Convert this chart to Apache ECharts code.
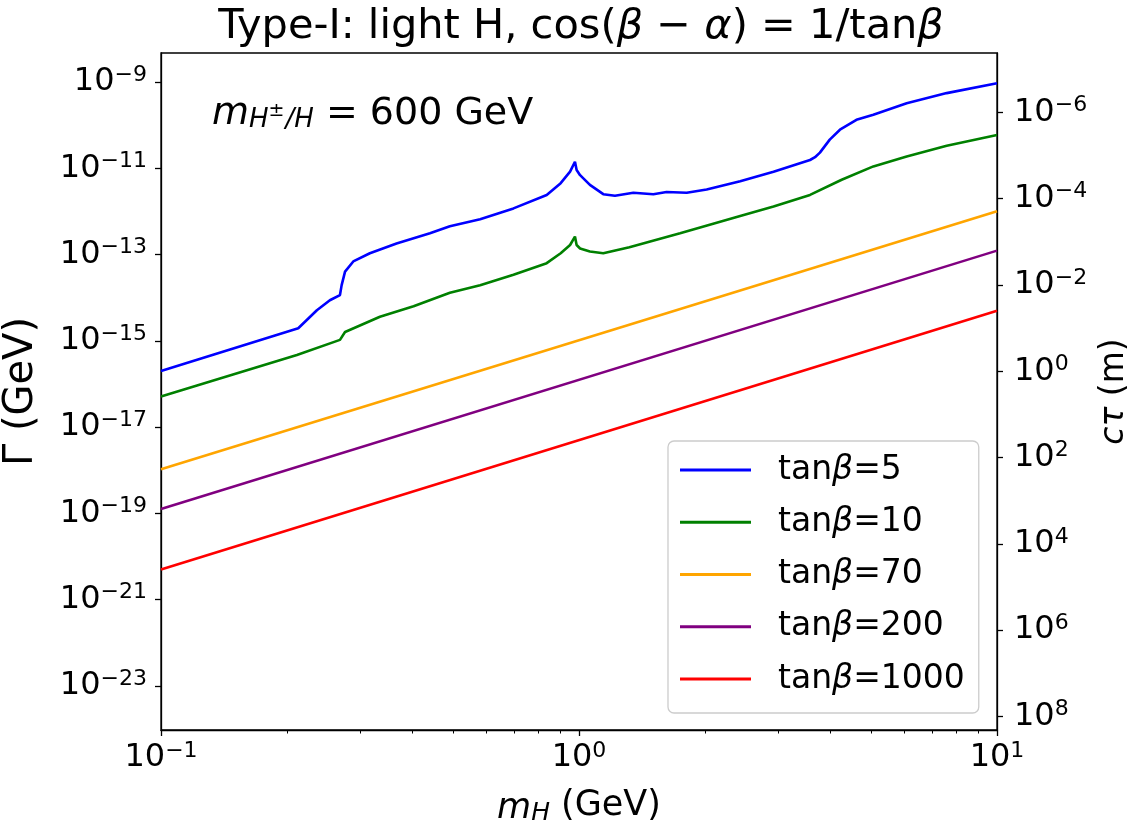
<!DOCTYPE html>
<html>
<head>
<meta charset="utf-8">
<title>Type-I light H</title>
<script src="https://cdn.jsdelivr.net/npm/echarts@6/dist/echarts.min.js"></script>
<style>
html,body{margin:0;padding:0;background:#fff;}
#chart{width:1127px;height:829px;}
</style>
</head>
<body>
<div id="chart"></div>
<script>
// m_H (GeV) and Gamma (GeV)
var massBlue = [0.1, 0.213, 0.236, 0.2535, 0.268, 0.2705, 0.2756, 0.2884, 0.316, 0.366, 0.440, 0.491, 0.580, 0.697, 0.837, 0.904, 0.952, 0.978, 0.987, 1.006, 1.062, 1.143, 1.219, 1.349, 1.506, 1.62, 1.81, 2.02, 2.43, 2.92, 3.57, 3.67, 3.77, 3.98, 4.21, 4.61, 5.06, 6.08, 7.58, 10];
var gammaBlue = [2.0e-16, 1.95e-15, 5.1e-15, 8.7e-15, 1.15e-14, 1.95e-14, 4.0e-14, 6.9e-14, 1.07e-13, 1.8e-13, 3.1e-13, 4.5e-13, 6.6e-13, 1.17e-12, 2.4e-12, 4.5e-12, 8.3e-12, 1.41e-11, 9.1e-12, 6.9e-12, 4.1e-12, 2.5e-12, 2.3e-12, 2.7e-12, 2.5e-12, 2.8e-12, 2.7e-12, 3.2e-12, 5.0e-12, 8.3e-12, 1.55e-11, 1.8e-11, 2.3e-11, 4.6e-11, 7.8e-11, 1.32e-10, 1.74e-10, 3.2e-10, 5.5e-10, 9.3e-10];

var massGreen = [0.1, 0.2114, 0.268, 0.2756, 0.334, 0.402, 0.491, 0.580, 0.697, 0.837, 0.904, 0.952, 0.978, 0.987, 1.006, 1.062, 1.143, 1.32, 1.745, 2.43, 2.92, 3.57, 4.25, 5.06, 6.08, 7.58, 10];
var gammaGreen = [5.1e-17, 4.7e-16, 1.05e-15, 1.6e-15, 3.6e-15, 6.3e-15, 1.3e-14, 1.95e-14, 3.4e-14, 6.3e-14, 1.07e-13, 1.66e-13, 2.6e-13, 1.66e-13, 1.38e-13, 1.17e-13, 1.07e-13, 1.48e-13, 3.1e-13, 7.8e-13, 1.29e-12, 2.4e-12, 5.4e-12, 1.1e-11, 1.86e-11, 3.3e-11, 5.9e-11];

var massEnds = [0.1, 10];
var gammaOrange = [1.05e-18, 1.0e-12];
var gammaPurple = [1.26e-19, 1.23e-13];
var gammaRed = [5.0e-21, 5.0e-15];

var seriesNames = ['tanβ=5', 'tanβ=10', 'tanβ=70', 'tanβ=200', 'tanβ=1000'];
var seriesColors = ['#0000ff', '#008000', '#ffa500', '#800080', '#ff0000'];

var xTicks = [0.1, 1, 10];
var xMinorTicks = [0.2, 0.3, 0.4, 0.5, 0.6, 0.7, 0.8, 0.9, 2, 3, 4, 5, 6, 7, 8, 9];
var gammaTicks = [1e-9, 1e-11, 1e-13, 1e-15, 1e-17, 1e-19, 1e-21, 1e-23];
var ctauTicks = [1e-6, 1e-4, 1e-2, 1, 1e2, 1e4, 1e6, 1e8];

var gammaMin = Math.pow(10, -24.02);
var gammaMax = Math.pow(10, -8.33);
var HBARC = 1.9733e-16; // GeV m, c*tau = hbar*c / Gamma

var FONT = 'DejaVu Sans';

function pairs(xs, ys) {
    var out = [];
    for (var i = 0; i < xs.length; i++) {
        out.push([xs[i], ys[i]]);
    }
    return out;
}

function powLabel(v) {
    var e = Math.round(Math.log10(v));
    return '{b|10}{s|' + (e < 0 ? '\u2212' + (-e) : e) + '}';
}

var tickRich = {
    b: {fontSize: 32, lineHeight: 36, fontFamily: FONT, color: '#000'},
    s: {fontSize: 22, lineHeight: 22, verticalAlign: 'top', fontFamily: FONT, color: '#000'}
};

var lineData = [
    pairs(massBlue, gammaBlue),
    pairs(massGreen, gammaGreen),
    pairs(massEnds, gammaOrange),
    pairs(massEnds, gammaPurple),
    pairs(massEnds, gammaRed)
];

var series = [];
for (var i = 0; i < lineData.length; i++) {
    series.push({
        name: seriesNames[i],
        type: 'line',
        data: lineData[i],
        xAxisIndex: 0,
        yAxisIndex: 0,
        symbol: 'none',
        showSymbol: false,
        smooth: false,
        lineStyle: {color: seriesColors[i], width: 2.6},
        itemStyle: {color: seriesColors[i]},
        animation: false
    });
}

var chart = echarts.init(document.getElementById('chart'), null, {renderer: 'canvas'});

var option = {
    backgroundColor: '#fff',
    animation: false,
    title: [{
        text: 'Type-I: light H, cos({i|β} \u2212 {i|α}) = 1/tan{i|β}',
        left: 576,
        top: -3,
        textAlign: 'center',
        textStyle: {
            fontFamily: FONT, fontSize: 41.5, fontWeight: 'normal', color: '#000', lineHeight: 50,
            rich: {i: {fontFamily: FONT, fontSize: 41.5, fontStyle: 'italic', color: '#000', lineHeight: 50}}
        }
    }, {
        text: '{m|m}{sub|H}{sup|\u00b1}{sub|/H}{n| = 600 GeV}',
        left: 207,
        top: 78,
        textStyle: {
            fontFamily: FONT, fontSize: 38, fontWeight: 'normal', color: '#000',
            rich: {
                m: {fontFamily: FONT, fontSize: 38, fontStyle: 'italic', color: '#000', lineHeight: 50, verticalAlign: 'bottom'},
                sub: {fontFamily: FONT, fontSize: 26, fontStyle: 'italic', color: '#000', lineHeight: 22, verticalAlign: 'bottom'},
                sup: {fontFamily: FONT, fontSize: 19, color: '#000', lineHeight: 20, verticalAlign: 'bottom', padding: [0, 1, 12, 0]},
                n: {fontFamily: FONT, fontSize: 38, color: '#000', lineHeight: 50, verticalAlign: 'bottom'}
            }
        }
    }],
    legend: {
        data: seriesNames,
        orient: 'vertical',
        left: 668,
        top: 441,
        padding: [12, 14, 17, 12],
        icon: 'rect',
        itemWidth: 71,
        itemHeight: 3,
        itemGap: 18.25,
        backgroundColor: 'rgba(255,255,255,0.8)',
        borderColor: '#cccccc',
        borderWidth: 1.3,
        borderRadius: 6,
        formatter: function (name) {
            return name.replace('β', '{i|β}');
        },
        textStyle: {
            fontFamily: FONT, fontSize: 33, color: '#000', lineHeight: 34, padding: [0, 0, 0, 22],
            rich: {i: {fontFamily: FONT, fontSize: 33, fontStyle: 'italic', color: '#000', lineHeight: 34}}
        }
    },
    grid: {
        left: 161, right: 130, top: 53, bottom: 99,
        show: true, borderColor: '#000', borderWidth: 1.3, backgroundColor: 'transparent',
        containLabel: false,
        outerBoundsMode: 'none'
    },
    xAxis: [{
        type: 'log',
        logBase: 10,
        min: 0.1,
        max: 10,
        position: 'bottom',
        name: '{i|m}{sub|H} (GeV)',
        nameLocation: 'middle',
        nameGap: 56,
        nameTextStyle: {
            fontFamily: FONT, fontSize: 35, color: '#000', lineHeight: 40,
            rich: {
                i: {fontFamily: FONT, fontSize: 35, fontStyle: 'italic', color: '#000', lineHeight: 40, verticalAlign: 'bottom'},
                sub: {fontFamily: FONT, fontSize: 25, fontStyle: 'italic', color: '#000', lineHeight: 22, verticalAlign: 'bottom'}
            }
        },
        axisLine: {show: true, lineStyle: {color: '#000', width: 1.3}},
        axisTick: {show: true, length: 6, customValues: xTicks, lineStyle: {color: '#000', width: 1.3}},
        axisLabel: {show: true, margin: 10, customValues: xTicks, formatter: powLabel, rich: tickRich},
        splitLine: {show: false},
        minorTick: {show: false}
    }, {
        type: 'log',
        logBase: 10,
        min: 0.1,
        max: 10,
        position: 'bottom',
        axisLine: {show: false},
        axisTick: {show: true, length: 3.5, customValues: xMinorTicks, lineStyle: {color: '#000', width: 1}},
        axisLabel: {show: false},
        splitLine: {show: false}
    }],
    yAxis: [{
        type: 'log',
        logBase: 10,
        min: gammaMin,
        max: gammaMax,
        position: 'left',
        name: 'Γ (GeV)',
        nameLocation: 'middle',
        nameRotate: 90,
        nameGap: 119,
        nameTextStyle: {fontFamily: FONT, fontSize: 40, color: '#000'},
        axisLine: {show: true, lineStyle: {color: '#000', width: 1.3}},
        axisTick: {show: true, length: 6, customValues: gammaTicks, lineStyle: {color: '#000', width: 1.3}},
        axisLabel: {show: true, margin: 14, customValues: gammaTicks, formatter: powLabel, rich: tickRich},
        splitLine: {show: false}
    }, {
        type: 'log',
        logBase: 10,
        inverse: true,
        min: HBARC / gammaMax,
        max: HBARC / gammaMin,
        position: 'right',
        name: '{i|cτ} (m)',
        nameLocation: 'middle',
        nameRotate: 90,
        nameGap: 98,
        nameTextStyle: {
            fontFamily: FONT, fontSize: 33, color: '#000',
            rich: {i: {fontFamily: FONT, fontSize: 33, fontStyle: 'italic', color: '#000'}}
        },
        axisLine: {show: true, lineStyle: {color: '#000', width: 1.3}},
        axisTick: {show: true, length: 6, customValues: ctauTicks, lineStyle: {color: '#000', width: 1.3}},
        axisLabel: {show: true, margin: 17, customValues: ctauTicks, formatter: powLabel, rich: tickRich},
        splitLine: {show: false}
    }],
    series: series
};

chart.setOption(option);
</script>
</body>
</html>
